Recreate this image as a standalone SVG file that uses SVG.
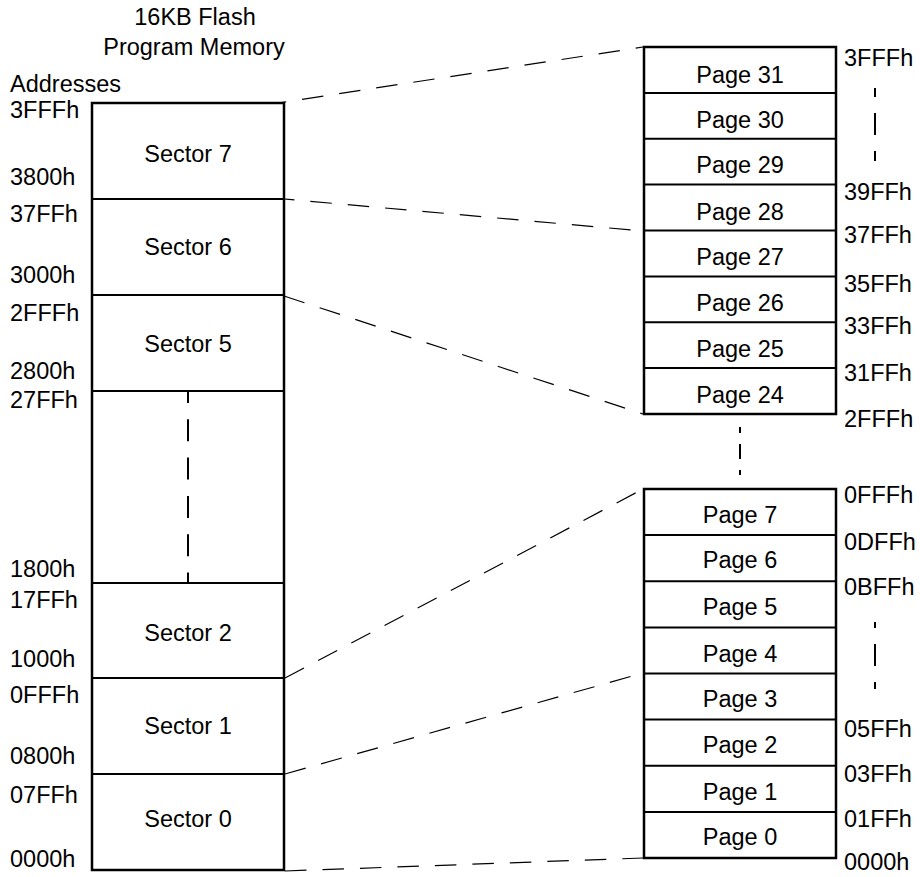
<svg xmlns="http://www.w3.org/2000/svg" width="920" height="877" viewBox="0 0 920 877">
<style>
text{font-family:"Liberation Sans",Arial,sans-serif;font-size:23.5px;fill:#000}
.c{text-anchor:middle}
.box{fill:#fff;stroke:#000;stroke-width:2.5}
.div{stroke:#000;stroke-width:2}
.conn{stroke:#000;stroke-width:1.2;stroke-dasharray:21.5 16;fill:none}
.vd{stroke:#000;stroke-width:2;fill:none}
</style>
<rect width="920" height="877" fill="#fff"/>
<g id="title">
<text class="c" x="195" y="25">16KB Flash</text>
<text class="c" x="194" y="55">Program Memory</text>
<text x="10" y="92">Addresses</text>
</g>
<g id="connectors">
<line class="conn" x1="265" y1="105" x2="643" y2="47"/>
<line class="conn" x1="273" y1="198" x2="643" y2="231"/>
<line class="conn" x1="284" y1="296" x2="643" y2="414"/>
<line class="conn" x1="285" y1="678" x2="643" y2="489"/>
<line class="conn" x1="285" y1="774" x2="643" y2="673"/>
<line class="conn" x1="285" y1="871" x2="643" y2="858"/>
</g>
<g id="flash-memory">
<rect class="box" x="92" y="103" width="192" height="767"/>
<line class="div" x1="92" y1="199" x2="284" y2="199"/>
<line class="div" x1="92" y1="295" x2="284" y2="295"/>
<line class="div" x1="92" y1="391" x2="284" y2="391"/>
<line class="div" x1="92" y1="583" x2="284" y2="583"/>
<line class="div" x1="92" y1="678" x2="284" y2="678"/>
<line class="div" x1="92" y1="774" x2="284" y2="774"/>
<line class="vd" x1="188" y1="392" x2="188" y2="583" stroke-dasharray="22 16.3" stroke-dashoffset="11"/>
<text class="c" x="188" y="162">Sector 7</text>
<text class="c" x="188" y="255">Sector 6</text>
<text class="c" x="188" y="352">Sector 5</text>
<text class="c" x="188" y="641">Sector 2</text>
<text class="c" x="188" y="734">Sector 1</text>
<text class="c" x="188" y="827">Sector 0</text>
</g>
<g id="left-addresses">
<text x="10" y="118">3FFFh</text>
<text x="10" y="185">3800h</text>
<text x="10" y="222">37FFh</text>
<text x="10" y="283">3000h</text>
<text x="10" y="321">2FFFh</text>
<text x="10" y="379">2800h</text>
<text x="10" y="408">27FFh</text>
<text x="10" y="577">1800h</text>
<text x="10" y="608">17FFh</text>
<text x="10" y="667">1000h</text>
<text x="10" y="703">0FFFh</text>
<text x="10" y="764">0800h</text>
<text x="10" y="803">07FFh</text>
<text x="10" y="867">0000h</text>
</g>
<g id="pages-upper">
<rect class="box" x="644" y="47" width="192" height="367"/>
<line class="div" x1="644" y1="92.9" x2="836" y2="92.9"/>
<line class="div" x1="644" y1="138.8" x2="836" y2="138.8"/>
<line class="div" x1="644" y1="184.6" x2="836" y2="184.6"/>
<line class="div" x1="644" y1="230.5" x2="836" y2="230.5"/>
<line class="div" x1="644" y1="276.4" x2="836" y2="276.4"/>
<line class="div" x1="644" y1="322.3" x2="836" y2="322.3"/>
<line class="div" x1="644" y1="368.1" x2="836" y2="368.1"/>
<text class="c" x="740" y="83">Page 31</text>
<text class="c" x="740" y="128">Page 30</text>
<text class="c" x="740" y="173">Page 29</text>
<text class="c" x="740" y="220">Page 28</text>
<text class="c" x="740" y="265">Page 27</text>
<text class="c" x="740" y="311">Page 26</text>
<text class="c" x="740" y="357">Page 25</text>
<text class="c" x="740" y="403">Page 24</text>
</g>
<g id="pages-lower">
<rect class="box" x="644" y="489" width="192" height="369"/>
<line class="div" x1="644" y1="535.1" x2="836" y2="535.1"/>
<line class="div" x1="644" y1="581.3" x2="836" y2="581.3"/>
<line class="div" x1="644" y1="627.4" x2="836" y2="627.4"/>
<line class="div" x1="644" y1="673.5" x2="836" y2="673.5"/>
<line class="div" x1="644" y1="719.6" x2="836" y2="719.6"/>
<line class="div" x1="644" y1="765.8" x2="836" y2="765.8"/>
<line class="div" x1="644" y1="811.9" x2="836" y2="811.9"/>
<text class="c" x="740" y="523">Page 7</text>
<text class="c" x="740" y="568">Page 6</text>
<text class="c" x="740" y="615">Page 5</text>
<text class="c" x="740" y="662">Page 4</text>
<text class="c" x="740" y="707">Page 3</text>
<text class="c" x="740" y="753">Page 2</text>
<text class="c" x="740" y="800">Page 1</text>
<text class="c" x="740" y="845">Page 0</text>
</g>
<g id="page-gap">
<line class="vd" x1="740" y1="427" x2="740" y2="475" stroke-dasharray="15 11" stroke-dashoffset="9"/>
</g>
<g id="right-addresses">
<text x="844" y="66">3FFFh</text>
<line class="vd" x1="875" y1="88" x2="875" y2="161" stroke-dasharray="22 16" stroke-dashoffset="13"/>
<text x="844" y="200">39FFh</text>
<text x="844" y="243">37FFh</text>
<text x="844" y="292">35FFh</text>
<text x="844" y="334">33FFh</text>
<text x="844" y="381">31FFh</text>
<text x="844" y="427">2FFFh</text>
<text x="844" y="503">0FFFh</text>
<text x="844" y="550">0DFFh</text>
<text x="844" y="595">0BFFh</text>
<line class="vd" x1="875" y1="622" x2="875" y2="689" stroke-dasharray="22 16" stroke-dashoffset="16"/>
<text x="844" y="737">05FFh</text>
<text x="844" y="782">03FFh</text>
<text x="844" y="827">01FFh</text>
<text x="844" y="870">0000h</text>
</g>
</svg>
